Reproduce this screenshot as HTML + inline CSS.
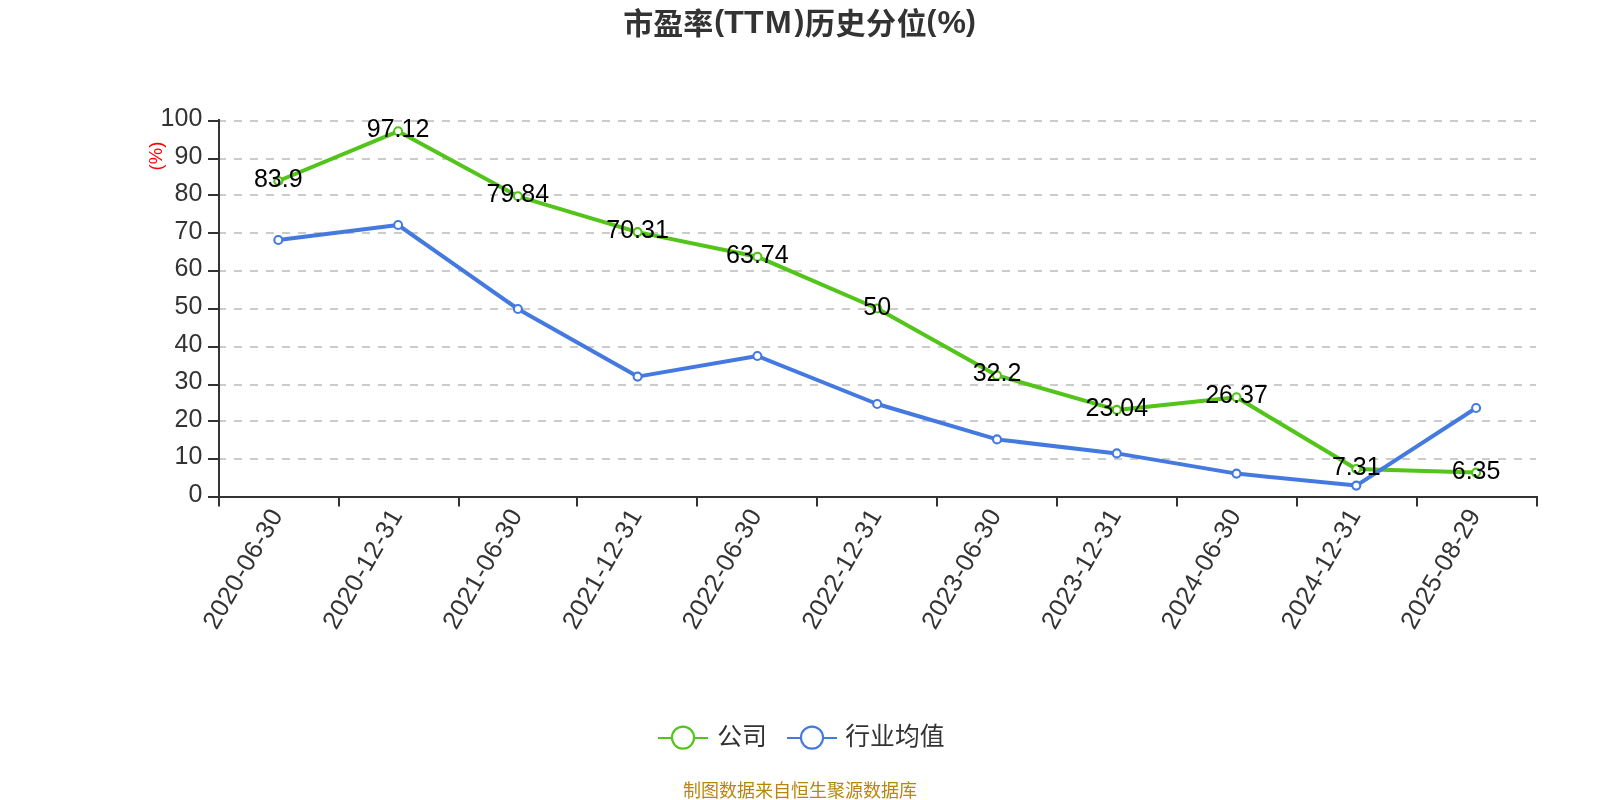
<!DOCTYPE html>
<html lang="zh-CN">
<head>
<meta charset="utf-8">
<title>市盈率(TTM)历史分位(%)</title>
<style>
html,body{margin:0;padding:0;background:#fff;}
body{width:1600px;height:800px;overflow:hidden;}
svg{display:block;will-change:transform;}
text{font-family:"Liberation Sans","Noto Sans CJK SC",sans-serif;}
.t{font-weight:bold;font-size:30px;fill:#333;}
.tl{font-size:32px;}
.tp{font-size:29.5px;}
.ax{font-size:25px;fill:#333;}
.xl{font-size:25.5px;fill:#333;letter-spacing:0.33px;}
.lb{font-size:25px;fill:#000;}
.lg{font-size:24.8px;fill:#333;}
.ft{font-size:18px;fill:#b8860b;}
.un{font-size:18.5px;fill:#f00;}
</style>
</head>
<body>
<svg width="1600" height="800" viewBox="0 0 1600 800">
<rect width="1600" height="800" fill="#fff"/>
<text class="t" y="33.8"><tspan x="623.2" y="33.8">市盈率</tspan><tspan class="tp" x="714.3" y="31.4">(</tspan><tspan class="tl" x="724.2 743.95 765.1" y="32.8">TTM</tspan><tspan class="tp" x="794.5" y="31.4">)</tspan><tspan x="805" y="33.8" style="letter-spacing:0.55px">历史分位</tspan><tspan class="tp" x="926.55" y="31.4">(</tspan><tspan class="tl" x="937.6" y="32.8">%</tspan><tspan class="tp" x="966" y="31.4">)</tspan></text>
<line x1="218" x2="1536" y1="459" y2="459" stroke="#ccc" stroke-width="2" stroke-dasharray="8 8"/>
<line x1="218" x2="1536" y1="421" y2="421" stroke="#ccc" stroke-width="2" stroke-dasharray="8 8"/>
<line x1="218" x2="1536" y1="385" y2="385" stroke="#ccc" stroke-width="2" stroke-dasharray="8 8"/>
<line x1="218" x2="1536" y1="347" y2="347" stroke="#ccc" stroke-width="2" stroke-dasharray="8 8"/>
<line x1="218" x2="1536" y1="309" y2="309" stroke="#ccc" stroke-width="2" stroke-dasharray="8 8"/>
<line x1="218" x2="1536" y1="271" y2="271" stroke="#ccc" stroke-width="2" stroke-dasharray="8 8"/>
<line x1="218" x2="1536" y1="233" y2="233" stroke="#ccc" stroke-width="2" stroke-dasharray="8 8"/>
<line x1="218" x2="1536" y1="195" y2="195" stroke="#ccc" stroke-width="2" stroke-dasharray="8 8"/>
<line x1="218" x2="1536" y1="159" y2="159" stroke="#ccc" stroke-width="2" stroke-dasharray="8 8"/>
<line x1="218" x2="1536" y1="121" y2="121" stroke="#ccc" stroke-width="2" stroke-dasharray="8 8"/>
<line x1="219" x2="219" y1="119" y2="498" stroke="#333" stroke-width="2"/>
<line x1="218" x2="1538" y1="497" y2="497" stroke="#333" stroke-width="2"/>
<line x1="208" x2="219" y1="497" y2="497" stroke="#333" stroke-width="2"/>
<text class="ax" x="202.3" y="502.0" text-anchor="end">0</text>
<line x1="208" x2="219" y1="459" y2="459" stroke="#333" stroke-width="2"/>
<text class="ax" x="202.3" y="464.4" text-anchor="end">10</text>
<line x1="208" x2="219" y1="421" y2="421" stroke="#333" stroke-width="2"/>
<text class="ax" x="202.3" y="426.8" text-anchor="end">20</text>
<line x1="208" x2="219" y1="385" y2="385" stroke="#333" stroke-width="2"/>
<text class="ax" x="202.3" y="389.2" text-anchor="end">30</text>
<line x1="208" x2="219" y1="347" y2="347" stroke="#333" stroke-width="2"/>
<text class="ax" x="202.3" y="351.6" text-anchor="end">40</text>
<line x1="208" x2="219" y1="309" y2="309" stroke="#333" stroke-width="2"/>
<text class="ax" x="202.3" y="314.0" text-anchor="end">50</text>
<line x1="208" x2="219" y1="271" y2="271" stroke="#333" stroke-width="2"/>
<text class="ax" x="202.3" y="276.4" text-anchor="end">60</text>
<line x1="208" x2="219" y1="233" y2="233" stroke="#333" stroke-width="2"/>
<text class="ax" x="202.3" y="238.8" text-anchor="end">70</text>
<line x1="208" x2="219" y1="195" y2="195" stroke="#333" stroke-width="2"/>
<text class="ax" x="202.3" y="201.2" text-anchor="end">80</text>
<line x1="208" x2="219" y1="159" y2="159" stroke="#333" stroke-width="2"/>
<text class="ax" x="202.3" y="163.6" text-anchor="end">90</text>
<line x1="208" x2="219" y1="121" y2="121" stroke="#333" stroke-width="2"/>
<text class="ax" x="202.3" y="126.0" text-anchor="end">100</text>
<line x1="219" x2="219" y1="497" y2="506.5" stroke="#333" stroke-width="2"/>
<line x1="339" x2="339" y1="497" y2="506.5" stroke="#333" stroke-width="2"/>
<line x1="459" x2="459" y1="497" y2="506.5" stroke="#333" stroke-width="2"/>
<line x1="577" x2="577" y1="497" y2="506.5" stroke="#333" stroke-width="2"/>
<line x1="697" x2="697" y1="497" y2="506.5" stroke="#333" stroke-width="2"/>
<line x1="817" x2="817" y1="497" y2="506.5" stroke="#333" stroke-width="2"/>
<line x1="937" x2="937" y1="497" y2="506.5" stroke="#333" stroke-width="2"/>
<line x1="1057" x2="1057" y1="497" y2="506.5" stroke="#333" stroke-width="2"/>
<line x1="1177" x2="1177" y1="497" y2="506.5" stroke="#333" stroke-width="2"/>
<line x1="1297" x2="1297" y1="497" y2="506.5" stroke="#333" stroke-width="2"/>
<line x1="1417" x2="1417" y1="497" y2="506.5" stroke="#333" stroke-width="2"/>
<line x1="1537" x2="1537" y1="497" y2="506.5" stroke="#333" stroke-width="2"/>
<text class="un" transform="translate(162,156) rotate(-90)" text-anchor="middle">(%)</text>
<text class="xl" transform="translate(283.4,515.0) rotate(-60)" text-anchor="end">2020-06-30</text>
<text class="xl" transform="translate(403.2,515.0) rotate(-60)" text-anchor="end">2020-12-31</text>
<text class="xl" transform="translate(523.0,515.0) rotate(-60)" text-anchor="end">2021-06-30</text>
<text class="xl" transform="translate(642.8,515.0) rotate(-60)" text-anchor="end">2021-12-31</text>
<text class="xl" transform="translate(762.6,515.0) rotate(-60)" text-anchor="end">2022-06-30</text>
<text class="xl" transform="translate(882.4,515.0) rotate(-60)" text-anchor="end">2022-12-31</text>
<text class="xl" transform="translate(1002.1,515.0) rotate(-60)" text-anchor="end">2023-06-30</text>
<text class="xl" transform="translate(1121.9,515.0) rotate(-60)" text-anchor="end">2023-12-31</text>
<text class="xl" transform="translate(1241.7,515.0) rotate(-60)" text-anchor="end">2024-06-30</text>
<text class="xl" transform="translate(1361.5,515.0) rotate(-60)" text-anchor="end">2024-12-31</text>
<text class="xl" transform="translate(1481.2,515.0) rotate(-60)" text-anchor="end">2025-08-29</text>
<polyline points="278.3,181.0 398.1,131.3 517.9,196.3 637.6,232.1 757.4,256.8 877.2,308.5 997.0,375.4 1116.8,409.9 1236.5,397.3 1356.3,469.0 1476.1,472.6" fill="none" stroke="#52c41a" stroke-width="4" stroke-linejoin="bevel"/>
<circle cx="278.3" cy="181.0" r="4" fill="#fff" stroke="#52c41a" stroke-width="2.1"/>
<circle cx="398.1" cy="131.3" r="4" fill="#fff" stroke="#52c41a" stroke-width="2.1"/>
<circle cx="517.9" cy="196.3" r="4" fill="#fff" stroke="#52c41a" stroke-width="2.1"/>
<circle cx="637.6" cy="232.1" r="4" fill="#fff" stroke="#52c41a" stroke-width="2.1"/>
<circle cx="757.4" cy="256.8" r="4" fill="#fff" stroke="#52c41a" stroke-width="2.1"/>
<circle cx="877.2" cy="308.5" r="4" fill="#fff" stroke="#52c41a" stroke-width="2.1"/>
<circle cx="997.0" cy="375.4" r="4" fill="#fff" stroke="#52c41a" stroke-width="2.1"/>
<circle cx="1116.8" cy="409.9" r="4" fill="#fff" stroke="#52c41a" stroke-width="2.1"/>
<circle cx="1236.5" cy="397.3" r="4" fill="#fff" stroke="#52c41a" stroke-width="2.1"/>
<circle cx="1356.3" cy="469.0" r="4" fill="#fff" stroke="#52c41a" stroke-width="2.1"/>
<circle cx="1476.1" cy="472.6" r="4" fill="#fff" stroke="#52c41a" stroke-width="2.1"/>
<polyline points="278.3,240.0 398.1,225.0 517.9,309.0 637.6,376.6 757.4,356.0 877.2,404.0 997.0,439.4 1116.8,453.4 1236.5,473.6 1356.3,485.6 1476.1,408.0" fill="none" stroke="#447ae0" stroke-width="4" stroke-linejoin="bevel"/>
<circle cx="278.3" cy="240.0" r="4" fill="#fff" stroke="#447ae0" stroke-width="2.1"/>
<circle cx="398.1" cy="225.0" r="4" fill="#fff" stroke="#447ae0" stroke-width="2.1"/>
<circle cx="517.9" cy="309.0" r="4" fill="#fff" stroke="#447ae0" stroke-width="2.1"/>
<circle cx="637.6" cy="376.6" r="4" fill="#fff" stroke="#447ae0" stroke-width="2.1"/>
<circle cx="757.4" cy="356.0" r="4" fill="#fff" stroke="#447ae0" stroke-width="2.1"/>
<circle cx="877.2" cy="404.0" r="4" fill="#fff" stroke="#447ae0" stroke-width="2.1"/>
<circle cx="997.0" cy="439.4" r="4" fill="#fff" stroke="#447ae0" stroke-width="2.1"/>
<circle cx="1116.8" cy="453.4" r="4" fill="#fff" stroke="#447ae0" stroke-width="2.1"/>
<circle cx="1236.5" cy="473.6" r="4" fill="#fff" stroke="#447ae0" stroke-width="2.1"/>
<circle cx="1356.3" cy="485.6" r="4" fill="#fff" stroke="#447ae0" stroke-width="2.1"/>
<circle cx="1476.1" cy="408.0" r="4" fill="#fff" stroke="#447ae0" stroke-width="2.1"/>
<text class="lb" x="278.3" y="187.0" text-anchor="middle">83.9</text>
<text class="lb" x="398.1" y="137.3" text-anchor="middle">97.12</text>
<text class="lb" x="517.9" y="202.3" text-anchor="middle">79.84</text>
<text class="lb" x="637.6" y="238.1" text-anchor="middle">70.31</text>
<text class="lb" x="757.4" y="262.8" text-anchor="middle">63.74</text>
<text class="lb" x="877.2" y="314.5" text-anchor="middle">50</text>
<text class="lb" x="997.0" y="381.4" text-anchor="middle">32.2</text>
<text class="lb" x="1116.8" y="415.9" text-anchor="middle">23.04</text>
<text class="lb" x="1236.5" y="403.3" text-anchor="middle">26.37</text>
<text class="lb" x="1356.3" y="475.0" text-anchor="middle">7.31</text>
<text class="lb" x="1476.1" y="478.6" text-anchor="middle">6.35</text>
<line x1="658" x2="708" y1="738" y2="738" stroke="#52c41a" stroke-width="2"/>
<circle cx="683" cy="737.6" r="11.05" fill="#fff" stroke="#52c41a" stroke-width="2.15"/>
<text class="lg" x="717.3" y="745.0">公司</text>
<line x1="787" x2="837" y1="738" y2="738" stroke="#447ae0" stroke-width="2"/>
<circle cx="812" cy="737.6" r="11.05" fill="#fff" stroke="#447ae0" stroke-width="2.15"/>
<text class="lg" x="845.3" y="745.0">行业均值</text>
<text class="ft" x="800" y="797" text-anchor="middle">制图数据来自恒生聚源数据库</text>
</svg>
</body>
</html>
